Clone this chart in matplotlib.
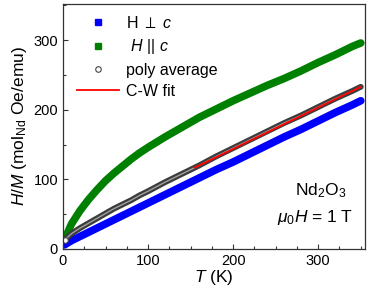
import matplotlib
matplotlib.use('Agg')
import matplotlib.pyplot as plt
from matplotlib.lines import Line2D
from matplotlib.ticker import MultipleLocator

plt.rcParams['font.family'] = ['Liberation Sans', 'DejaVu Sans']
plt.rcParams['mathtext.fontset'] = 'custom'
plt.rcParams['mathtext.rm'] = 'Liberation Sans'
plt.rcParams['mathtext.it'] = 'Liberation Sans:italic'

# temperature grid (K)
T = [2, 10, 20, 30, 40, 50, 60, 70, 80, 90, 100, 120, 140, 160, 180, 200,
     220, 240, 260, 280, 300, 320, 340, 350]

# H/M values (mol_Nd Oe/emu)
h_perp = [6, 12, 18, 24, 30, 36, 42, 48, 54, 60, 66, 78, 90, 102, 114, 125,
          137, 149, 161, 172, 184, 196, 207, 213]
h_par = [14, 36, 55, 71, 85, 98, 109, 119, 129, 138, 146, 161, 175, 189, 201, 213,
         224, 235, 245, 256, 268, 279, 291, 296]
poly_avg = [13, 22, 30, 37, 44, 51, 58, 64, 70, 77, 83, 96, 108, 120, 133, 145,
            157, 169, 181, 192, 204, 216, 227, 233]

# Curie-Weiss fit range
T_fit = [155, 350]
cw_fit = [117, 233]

fig = plt.figure(figsize=(3.74, 2.95), dpi=100)
ax = fig.add_axes([0.1684, 0.156, 0.8076, 0.8304])

ax.plot(T, h_perp, '-', color='#0000ff', lw=5.5, solid_capstyle='round')
ax.plot(T, h_par, '-', color='#008000', lw=5.5, solid_capstyle='round')
ax.plot(T, poly_avg, '-', color='#3c3c3c', lw=4.2, solid_capstyle='round')
ax.plot(T, poly_avg, '-', color='#a0a0a0', lw=1.0)
ax.plot(T[:1], poly_avg[:1], 'o', ms=4, mfc='white', mec='#444444', mew=0.8)
ax.plot(T_fit, cw_fit, '-', color='#ff0000', lw=1.3)

ax.set_xlim(0, 355)
ax.set_ylim(0, 352)
ax.xaxis.set_major_locator(MultipleLocator(100))
ax.xaxis.set_minor_locator(MultipleLocator(25))
ax.yaxis.set_major_locator(MultipleLocator(100))
ax.yaxis.set_minor_locator(MultipleLocator(50))
ax.tick_params(which='both', direction='in', labelsize=10.5, pad=3.5, color='#333333')
ax.tick_params(which='major', length=3.5, width=0.8)
ax.tick_params(which='minor', length=2, width=0.8)
for s in ax.spines.values():
    s.set_color('#333333')
    s.set_linewidth(0.9)

ax.set_xlabel(r'$T$ (K)', fontsize=12.5, labelpad=0)
ax.set_ylabel(r'$H/M$ (mol$_{\rm Nd}$ Oe/emu)', fontsize=12.5, labelpad=3)

handles = [
    Line2D([], [], ls='none', marker='s', ms=4, color='#0000ff'),
    Line2D([], [], ls='none', marker='s', ms=4, color='#008000'),
    Line2D([], [], ls='none', marker='o', ms=4, mfc='white', mec='#444444', mew=0.8),
    Line2D([], [], ls='-', lw=1.3, color='#ff0000'),
]
labels = [r'H $\perp$ $c$', r' $H$ || $c$', 'poly average', 'C-W fit']
ax.legend(handles, labels, loc='upper left', frameon=False, fontsize=11.5,
          handlelength=2.6, handletextpad=0.45, labelspacing=0.4,
          borderaxespad=0.2, bbox_to_anchor=(0.015, 0.995))

ax.text(0.855, 0.24, r'Nd$_2$O$_3$', transform=ax.transAxes, ha='center', va='center', fontsize=12.5)
ax.text(0.835, 0.13, r'$\mu_0H$ = 1 T', transform=ax.transAxes, ha='center', va='center', fontsize=12.5)

fig.savefig('out.png', dpi=100)
